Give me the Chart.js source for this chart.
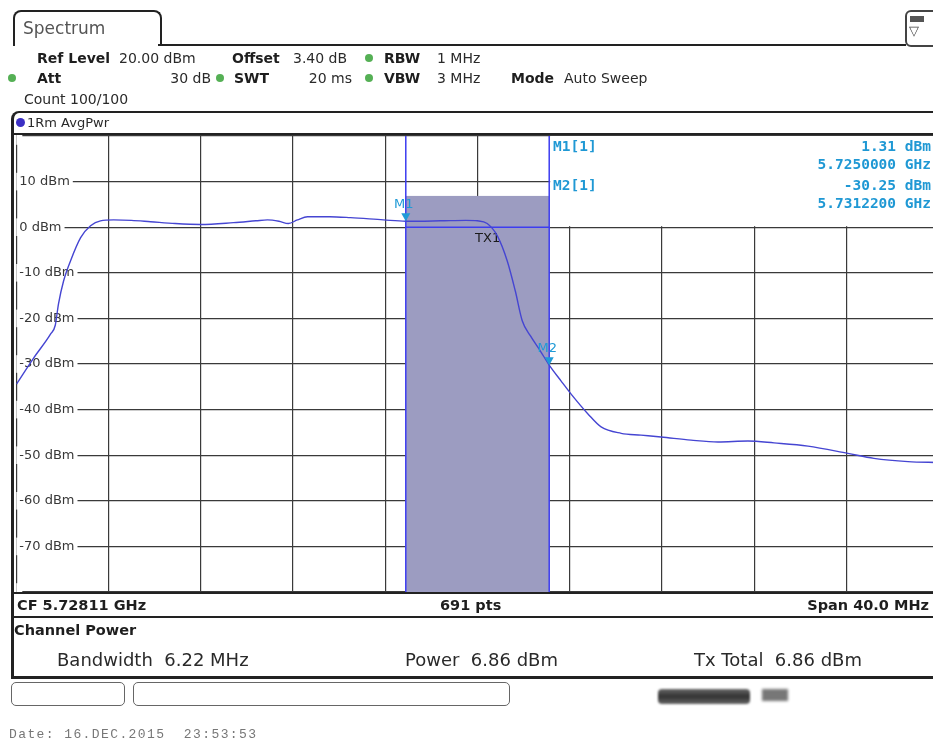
<!DOCTYPE html>
<html>
<head>
<meta charset="utf-8">
<script src="https://cdn.jsdelivr.net/npm/chart.js@4.4.1/dist/chart.umd.min.js"></script>
<style>
  html, body { margin: 0; padding: 0; background: #fff; }
  body { width: 933px; height: 743px; overflow: hidden; position: relative;
         font-family: "DejaVu Sans", sans-serif; color: #2a2a2a; }
  #plotWrap { position: absolute; left: 0; top: 0; width: 945px; height: 743px; z-index: 1; }
  .t { position: absolute; white-space: nowrap; line-height: 18px; font-size: 14px; z-index: 3; }
  .b { font-weight: bold; color: #1e1e1e; }
  .dot { position: absolute; width: 8px; height: 8px; border-radius: 50%; background: #55b055; z-index: 3; }
  .line { position: absolute; background: #222; z-index: 3; }
  .mk { position: absolute; white-space: nowrap; font-family: "DejaVu Sans Mono", monospace;
        font-weight: bold; font-size: 14.5px; line-height: 18px; color: #1f98d4; z-index: 3; }
  .box { position: absolute; border: 1.5px solid #666; border-radius: 5px; z-index: 3; }
</style>
</head>
<body>

<!-- tab and header -->
<div style="position:absolute;left:13px;top:10px;width:145px;height:34px;border:2px solid #222;border-bottom:none;border-radius:8px 8px 0 0;z-index:3;"></div>
<div class="t" style="left:23px;top:18px;font-size:17px;color:#555;line-height:20px;">Spectrum</div>
<div class="line" style="left:158px;top:44px;width:748px;height:2px;"></div>
<div style="position:absolute;left:905px;top:10px;width:36px;height:33px;border:2px solid #444;border-radius:6px;z-index:3;"></div>
<div style="position:absolute;left:910px;top:16px;width:14px;height:6px;background:#555;z-index:3;"></div>
<div class="t" style="left:909px;top:22px;font-size:13px;color:#444;">▽</div>

<div class="t b" style="left:37px;top:49px;">Ref Level</div>
<div class="t" style="left:119px;top:49px;">20.00 dBm</div>
<div class="t b" style="left:232px;top:49px;">Offset</div>
<div class="t" style="left:293px;top:49px;">3.40 dB</div>
<div class="dot" style="left:365px;top:54px;"></div>
<div class="t b" style="left:384px;top:49px;">RBW</div>
<div class="t" style="left:437px;top:49px;">1 MHz</div>

<div class="dot" style="left:8px;top:74px;"></div>
<div class="t b" style="left:37px;top:69px;">Att</div>
<div class="t" style="right:722px;top:69px;">30 dB</div>
<div class="dot" style="left:216px;top:74px;"></div>
<div class="t b" style="left:234px;top:69px;">SWT</div>
<div class="t" style="right:581px;top:69px;">20 ms</div>
<div class="dot" style="left:365px;top:74px;"></div>
<div class="t b" style="left:384px;top:69px;">VBW</div>
<div class="t" style="left:437px;top:69px;">3 MHz</div>
<div class="t b" style="left:511px;top:69px;">Mode</div>
<div class="t" style="left:564px;top:69px;">Auto Sweep</div>

<div class="t" style="left:24px;top:90px;">Count 100/100</div>

<!-- chart canvas -->
<div id="plotWrap"><canvas id="spec" width="945" height="743"></canvas></div>

<!-- panel frame -->
<div style="position:absolute;left:11px;top:111px;width:940px;height:563px;border-left:3px solid #222;border-top:2px solid #222;border-bottom:3px solid #222;border-radius:8px 0 0 0;z-index:3;"></div>
<div class="dot" style="left:16px;top:118px;width:9px;height:9px;background:#3b2fc4;"></div>
<div class="t" style="left:27px;top:114px;font-size:13px;">1Rm AvgPwr</div>
<div class="line" style="left:13px;top:133px;width:930px;height:2px;"></div>
<div class="line" style="left:13px;top:592px;width:930px;height:2px;"></div>
<div class="line" style="left:13px;top:616px;width:930px;height:2px;"></div>

<!-- marker info -->
<div class="mk" style="left:553px;top:137px;">M1[1]</div>
<div class="mk" id="m1lvl" style="right:2px;top:137px;"></div>
<div class="mk" id="m1frq" style="right:2px;top:155px;"></div>
<div class="mk" style="left:553px;top:176px;">M2[1]</div>
<div class="mk" id="m2lvl" style="right:2px;top:176px;"></div>
<div class="mk" id="m2frq" style="right:2px;top:194px;"></div>

<!-- footer of plot -->
<div class="t b" style="left:17px;top:596px;font-size:14.5px;">CF 5.72811 GHz</div>
<div class="t b" style="left:440px;top:596px;font-size:14.5px;">691 pts</div>
<div class="t b" style="right:4px;top:596px;font-size:14.5px;">Span 40.0 MHz</div>

<div class="t b" style="left:14px;top:621px;font-size:14.5px;">Channel Power</div>
<div class="t" style="left:57px;top:649px;font-size:18px;line-height:22px;">Bandwidth&nbsp; 6.22 MHz</div>
<div class="t" style="left:405px;top:649px;font-size:18px;line-height:22px;">Power&nbsp; 6.86 dBm</div>
<div class="t" style="left:694px;top:649px;font-size:18px;line-height:22px;">Tx Total&nbsp; 6.86 dBm</div>

<div class="box" style="left:11px;top:682px;width:112px;height:22px;"></div>
<div class="box" style="left:133px;top:682px;width:375px;height:22px;"></div>
<div style="position:absolute;left:658px;top:689px;width:92px;height:15px;border-radius:4px;background:linear-gradient(#666,#333,#666);filter:blur(0.8px);z-index:3;"></div>
<div style="position:absolute;left:762px;top:689px;width:26px;height:12px;background:#777;filter:blur(1.5px);z-index:3;"></div>

<div class="t" style="left:9px;top:726px;font-family:'Liberation Mono',monospace;font-size:13px;letter-spacing:1.4px;color:#777;">Date: 16.DEC.2015&nbsp; 23:53:53</div>

<script>
// --- sweep settings ---
const centerMHz = 5728.11;
const spanMHz = 40;
const startMHz = centerMHz - spanMHz / 2;
const stopMHz = centerMHz + spanMHz / 2;
const xGrid = [0, 4, 8, 12, 16, 20, 24, 28, 32, 36, 40].map(d => startMHz + d);
const yGrid = [20, 10, 0, -10, -20, -30, -40, -50, -60, -70, -80];

// --- trace ---
const freqMHz = [5708.12, 5708.86, 5709.60, 5709.80, 5709.94, 5710.16, 5710.46, 5710.90, 5711.33, 5711.76,
  5712.33, 5713.10, 5713.93, 5715.00, 5716.10, 5717.53, 5718.50, 5719.00, 5719.50, 5719.91,
  5720.30, 5720.74, 5721.70, 5722.60, 5724.03, 5725.00, 5726.50, 5727.60, 5728.10, 5728.53,
  5728.97, 5729.40, 5729.75, 5730.05, 5730.40, 5730.83, 5731.22, 5731.73, 5732.17, 5732.91,
  5733.47, 5734.34, 5735.20, 5736.07, 5737.37, 5738.54, 5739.84, 5740.97, 5742.44, 5744.17,
  5745.30, 5746.78, 5748.11];
const levelDbm = [-34.4, -28.7, -23.4, -21.5, -16.8, -11.8, -7.4, -2.3, 0.3, 1.4,
  1.6, 1.5, 1.2, 0.8, 0.6, 1.0, 1.4, 1.6, 1.3, 0.8,
  1.6, 2.3, 2.3, 2.1, 1.6, 1.31, 1.4, 1.5, 1.4, 0.8,
  -1.9, -7.4, -14.0, -20.5, -23.8, -27.1, -30.25, -33.7, -36.6, -41.0,
  -43.8, -45.2, -45.6, -46.0, -46.7, -47.1, -46.9, -47.3, -48.0, -49.6,
  -50.7, -51.4, -51.6];

// --- markers and channel ---
const markerNames = ['M1', 'M2'];
const markerFreqMHz = [5725.0, 5731.22];
const markerLevel = [1.31, -30.25];
const channelPower = 6.86;

document.getElementById('m1lvl').textContent = markerLevel[0].toFixed(2) + ' dBm';
document.getElementById('m1frq').textContent = (markerFreqMHz[0] / 1000).toFixed(7) + ' GHz';
document.getElementById('m2lvl').textContent = markerLevel[1].toFixed(2) + ' dBm';
document.getElementById('m2frq').textContent = (markerFreqMHz[1] / 1000).toFixed(7) + ' GHz';

const overlay = {
  id: 'overlay',
  beforeDatasetsDraw(chart) {
    const { ctx, chartArea: a, scales: { x, y } } = chart;
    const x1 = x.getPixelForValue(markerFreqMHz[0]);
    const x2 = x.getPixelForValue(markerFreqMHz[1]);
    const y0 = y.getPixelForValue(0);
    ctx.save();
    // marker table area
    ctx.fillStyle = '#fff';
    ctx.fillRect(x2 + 1, a.top, a.right - x2, y0 - 1 - a.top);
    // channel bar
    const yt = y.getPixelForValue(channelPower);
    ctx.fillStyle = '#9c9cc1';
    ctx.fillRect(x1, yt, x2 - x1, a.bottom - yt);
    ctx.strokeStyle = '#3d3df0';
    ctx.lineWidth = 1.5;
    ctx.beginPath();
    ctx.moveTo(x1, a.top); ctx.lineTo(x1, a.bottom);
    ctx.moveTo(x2, a.top); ctx.lineTo(x2, a.bottom);
    ctx.moveTo(x1, y0); ctx.lineTo(x2, y0);
    ctx.stroke();
    ctx.fillStyle = '#1a1a1a';
    ctx.font = '13px "DejaVu Sans"';
    ctx.textAlign = 'center';
    ctx.textBaseline = 'middle';
    ctx.fillText('TX1', x.getPixelForValue(5728.55), y.getPixelForValue(-2.4));
    ctx.restore();
  },
  afterDatasetsDraw(chart) {
    const { ctx, scales: { x, y } } = chart;
    ctx.save();
    ctx.fillStyle = '#1f9ad6';
    ctx.font = '13px "DejaVu Sans"';
    ctx.textAlign = 'center';
    ctx.textBaseline = 'middle';
    markerFreqMHz.forEach((f, i) => {
      const px = x.getPixelForValue(f);
      const py = y.getPixelForValue(markerLevel[i]);
      ctx.beginPath();
      ctx.moveTo(px - 4.5, py - 8);
      ctx.lineTo(px + 4.5, py - 8);
      ctx.lineTo(px, py);
      ctx.closePath();
      ctx.fill();
      ctx.fillText(markerNames[i], px - 2, py - 17);
    });
    ctx.restore();
  }
};

new Chart(document.getElementById('spec').getContext('2d'), {
  type: 'line',
  data: {
    datasets: [{
      data: freqMHz.map((f, i) => ({ x: f, y: levelDbm[i] })),
      borderColor: '#4545d2',
      borderWidth: 1.4,
      pointRadius: 0,
      cubicInterpolationMode: 'monotone',
      fill: false
    }]
  },
  options: {
    responsive: false,
    animation: false,
    events: [],
    layout: { padding: { left: 10.3, right: 6.3, top: 136, bottom: 151 } },
    plugins: { legend: { display: false }, tooltip: { enabled: false } },
    scales: {
      x: {
        type: 'linear', min: startMHz, max: stopMHz,
        afterBuildTicks: s => { s.ticks = xGrid.map(v => ({ value: v })); },
        ticks: { display: false },
        grid: { color: '#3a3a3a', lineWidth: 1.2, drawTicks: false },
        border: { display: false }
      },
      y: {
        type: 'linear', min: -80, max: 20,
        afterBuildTicks: s => { s.ticks = yGrid.map(v => ({ value: v })); },
        ticks: {
          mirror: true, padding: 3,
          callback: v => (v === 20 || v === -80) ? '' : v + ' dBm',
          font: { family: 'DejaVu Sans', size: 13 },
          color: '#383838',
          showLabelBackdrop: true,
          backdropColor: '#fff',
          backdropPadding: { x: 3, y: 1 }
        },
        grid: { color: '#3a3a3a', lineWidth: 1.2, drawTicks: false },
        border: { display: false }
      }
    }
  },
  plugins: [overlay]
});
</script>
</body>
</html>
